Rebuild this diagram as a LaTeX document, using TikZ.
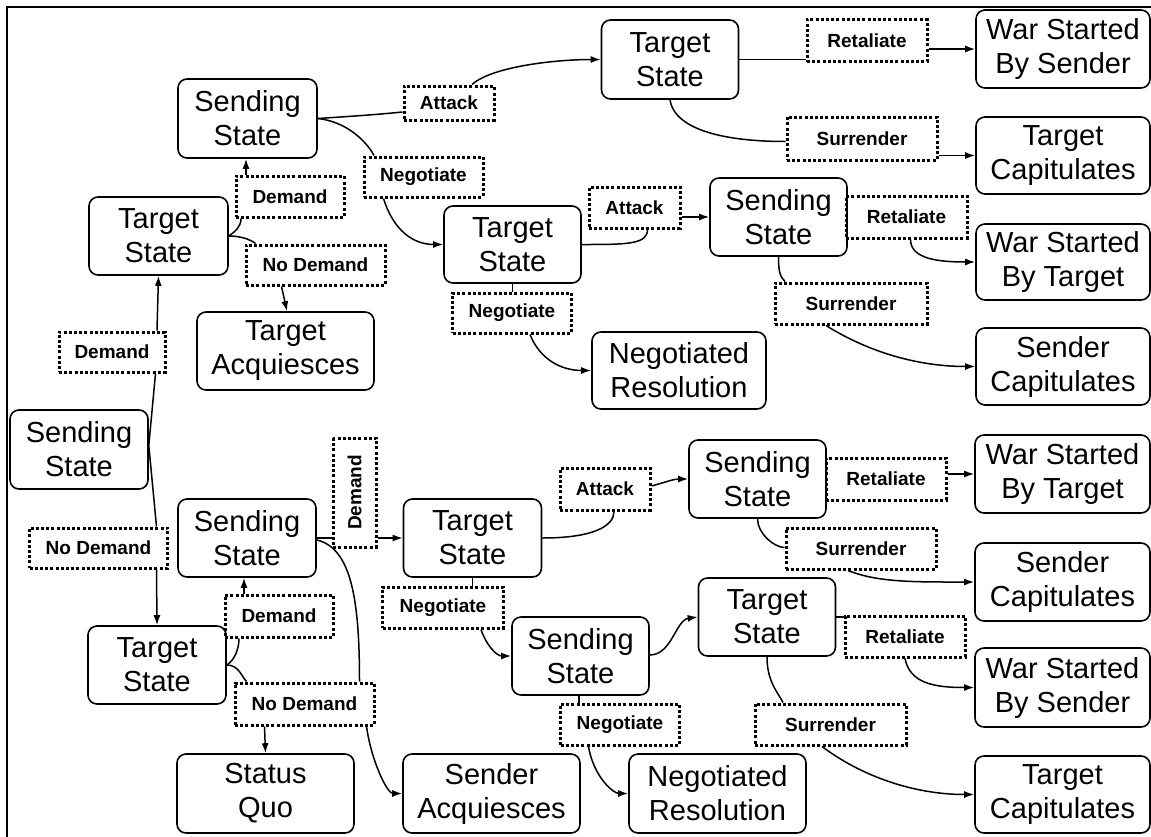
\documentclass[tikz,border=0pt]{standalone}
\usepackage{fontspec}
\setmainfont{Liberation Sans}
\usetikzlibrary{arrows.meta,calc}
\begin{document}
\begin{tikzpicture}[x=1pt,y=-1pt,
  state/.style={draw, line width=1.6pt, rounded corners=9pt, inner sep=0pt, align=center,
    font=\fontsize{29}{34}\selectfont},
  lab/.style={draw, line width=3pt, dash pattern=on 3pt off 2.2pt, inner sep=0pt, align=center,
    font=\bfseries\fontsize{19}{22}\selectfont},
  con/.style={line width=1.5pt},
  arr/.style={con, -{Latex[length=10pt,width=7pt]}}]
\clip (0,0) rectangle (1151,836);
\useasboundingbox (0,0) rectangle (1151,836);
\draw[line width=2.2pt] (7,7) rectangle (1170,860);
% state boxes
\node[state, minimum width=138pt, minimum height=79pt] (r) at (79,449.5) {Sending\\State};
\node[state, minimum width=139pt, minimum height=78pt] (t1) at (158.5,236) {Target\\State};
\node[state, minimum width=139pt, minimum height=79pt] (s1) at (247.5,118.5) {Sending\\State};
\node[state, minimum width=177pt, minimum height=78pt] (ta) at (285.5,351) {Target\\Acquiesces};
\node[state, minimum width=137pt, minimum height=79pt] (tt) at (670,59.5) {Target\\State};
\node[state, minimum width=174pt, minimum height=78pt] (wss1) at (1063,49) {War Started\\By Sender};
\node[state, minimum width=174pt, minimum height=77pt] (tc1) at (1063,155.5) {Target\\Capitulates};
\node[state, minimum width=137pt, minimum height=77pt] (tm) at (512.5,244.5) {Target\\State};
\node[state, minimum width=137pt, minimum height=78pt] (sm) at (778.5,217) {Sending\\State};
\node[state, minimum width=174pt, minimum height=76pt] (wst1) at (1063,262) {War Started\\By Target};
\node[state, minimum width=174pt, minimum height=77pt] (sc1) at (1063,366.5) {Sender\\Capitulates};
\node[state, minimum width=174pt, minimum height=77pt] (nr1) at (679,370.5) {Negotiated\\Resolution};
\node[state, minimum width=138pt, minimum height=78pt] (t2) at (157,665) {Target\\State};
\node[state, minimum width=138pt, minimum height=78pt] (s2) at (247,538) {Sending\\State};
\node[state, minimum width=177pt, minimum height=79pt] (sq) at (265.5,793.5) {Status\\Quo};
\node[state, minimum width=177pt, minimum height=79pt] (sa) at (491.5,793.5) {Sender\\Acquiesces};
\node[state, minimum width=138pt, minimum height=78pt] (tb) at (472.5,538) {Target\\State};
\node[state, minimum width=137pt, minimum height=78pt] (sb) at (757.5,479) {Sending\\State};
\node[state, minimum width=175pt, minimum height=78pt] (wst2) at (1062.5,474) {War Started\\By Target};
\node[state, minimum width=175pt, minimum height=78pt] (sc2) at (1062.5,582) {Sender\\Capitulates};
\node[state, minimum width=137pt, minimum height=78pt] (sd) at (580.5,656) {Sending\\State};
\node[state, minimum width=137pt, minimum height=78pt] (tcc) at (767,617) {Target\\State};
\node[state, minimum width=175pt, minimum height=79pt] (wss2) at (1062.5,687.5) {War Started\\By Sender};
\node[state, minimum width=177pt, minimum height=79pt] (nr2) at (717.5,793.5) {Negotiated\\Resolution};
\node[state, minimum width=175pt, minimum height=77pt] (tc2) at (1062.5,794.5) {Target\\Capitulates};
% labels
\node[lab, minimum width=106pt, minimum height=40pt] (lDem1) at (112,352) {Demand};
\node[lab, minimum width=138pt, minimum height=40pt] (lND1) at (98.5,548) {No Demand};
\node[lab, minimum width=108pt, minimum height=41pt] (lDem2) at (290,196.5) {Demand};
\node[lab, minimum width=139pt, minimum height=40pt] (lND2) at (315.5,265) {No Demand};
\node[lab, minimum width=90pt, minimum height=34pt] (lAtt1) at (449,103) {Attack};
\node[lab, minimum width=119pt, minimum height=40pt] (lNeg1) at (423.5,177) {Negotiate};
\node[lab, minimum width=119pt, minimum height=40pt] (lNeg2) at (512,313) {Negotiate};
\node[lab, minimum width=120pt, minimum height=42pt] (lRet1) at (867,40.5) {Retaliate};
\node[lab, minimum width=150pt, minimum height=43pt] (lSur1) at (862,138.5) {Surrender};
\node[lab, minimum width=91pt, minimum height=41pt] (lAtt2) at (634.5,207.5) {Attack};
\node[lab, minimum width=121pt, minimum height=42pt] (lRet2) at (906.5,217) {Retaliate};
\node[lab, minimum width=152pt, minimum height=41pt] (lSur2) at (851,303.5) {Surrender};
\node[lab, rotate=90, minimum width=109pt, minimum height=43pt] (lDemV) at (354.5,492.5) {Demand};
\node[lab, minimum width=108pt, minimum height=42pt] (lDem3) at (279,616) {Demand};
\node[lab, minimum width=139pt, minimum height=42pt] (lND3) at (304.5,704) {No Demand};
\node[lab, minimum width=121pt, minimum height=41pt] (lNeg3) at (443,607.5) {Negotiate};
\node[lab, minimum width=90pt, minimum height=42pt] (lAtt3) at (605,489) {Attack};
\node[lab, minimum width=120pt, minimum height=42pt] (lRet3) at (886,479) {Retaliate};
\node[lab, minimum width=150pt, minimum height=41pt] (lSur3) at (861,548.5) {Surrender};
\node[lab, minimum width=120pt, minimum height=41pt] (lRet4) at (905,636.5) {Retaliate};
\node[lab, minimum width=151pt, minimum height=41pt] (lSur4) at (830.5,724.5) {Surrender};
\node[lab, minimum width=119pt, minimum height=41pt] (lNeg4) at (620,724.5) {Negotiate};
% connectors - upper half
\draw[con] ($(r.east)+(0,-4)$) -- ($(lDem1.south)+(43.5,0)$);
\draw[arr] ($(lDem1.north)+(45,0)$) -- (t1.south);
\draw[con] ($(r.east)+(0,-4)$) -- ($(lND1.north)+(58,0)$);
\draw[arr] ($(lND1.south)+(58,0)$) -- (t2.north);
\draw[con] (t1.east) .. controls +(7,-5) and +(0,8) .. ($(lDem2.south)+(-49,0)$);
\draw[arr] ($(lDem2.north)+(-44,0)$) -- ($(s1.south)+(-1.5,0)$);
\draw[con] (t1.east) .. controls +(12,0) and +(-5,-4) .. ($(lND2.north)+(-60,0)$);
\draw[arr] ($(lND2.south)+(-34,0)$) -- ($(ta.north)+(1.5,0)$);
\draw[con] (s1.east) .. controls +(30,-2) and +(-30,3) .. ($(lAtt1.west)+(0,9)$);
\draw[arr] ($(lAtt1.north)+(23,0)$) .. controls +(20,-18) and +(-45,0) .. (tt.west);
\draw[con] (s1.east) .. controls +(28,3) and +(-8,-15) .. ($(lNeg1.north)+(-49.5,0)$);
\draw[arr] ($(lNeg1.south)+(-40,0)$) .. controls +(10,32) and +(-30,0) .. (tm.west);
\draw[con] (tm.south) -- ($(lNeg2.north)+(0.5,0)$);
\draw[arr] ($(lNeg2.south)+(18,0)$) .. controls +(10,25) and +(-30,0) .. (nr1.west);
\draw[con] (tm.east) .. controls +(45,0) and +(0,15) .. ($(lAtt2.south)+(13,0)$);
\draw[arr] ($(lAtt2.east)+(0,9.5)$) -- (sm.west);
\draw[arr] ($(lRet2.south)+(4,0)$) .. controls +(0,20) and +(-35,0) .. (wst1.west);
\draw[con] (sm.south) .. controls +(0,15) and +(-5,-5) .. ($(lSur2.north)+(-66,0)$);
\draw[arr] ($(lSur2.south)+(-25,0)$) .. controls +(40,25) and +(-60,0) .. (sc1.west);
\draw[con] (tt.east) -- (tt.east -| lRet1.west);
\draw[arr] (lRet1.east |- wss1.west) -- (wss1.west);
\draw[con] (tt.south) .. controls +(5,32) and +(-55,0) .. ($(lSur1.west)+(0,3)$);
\draw[arr] (lSur1.east |- tc1.west) -- (tc1.west);
% connectors - lower half
\draw[con] (s2.east) -- (lDemV.north |- s2.east);
\draw[arr] (lDemV.south |- tb.west) -- (tb.west);
\draw[con] ($(s2.east)+(0,2)$) .. controls +(35,8) and +(0,-80) .. ($(lND3.north)+(55,0)$);
\draw[arr] ($(lND3.south)+(62,0)$) .. controls +(5,35) and +(-15,0) .. (sa.west);
\draw[con] (t2.east) .. controls +(8,-5) and +(0,10) .. ($(lDem3.south)+(-40,0)$);
\draw[arr] ($(lDem3.north)+(-35,0)$) -- ($(s2.south)+(-3,0)$);
\draw[con] (t2.east) .. controls +(12,0) and +(-5,-5) .. ($(lND3.north)+(-58,0)$);
\draw[arr] ($(lND3.south)+(-40,0)$) -- (sq.north);
\draw[con] (tb.south) -- ($(lNeg3.north)+(29.5,0)$);
\draw[arr] ($(lNeg3.south)+(38,0)$) .. controls +(5,15) and +(-15,0) .. (sd.west);
\draw[con] (tb.east) .. controls +(50,0) and +(0,15) .. ($(lAtt3.south)+(9,0)$);
\draw[arr] ($(lAtt3.east)+(0,-3)$) .. controls +(15,-4) and +(-15,0) .. (sb.west);
\draw[arr] (lRet3.east |- wst2.west) -- (wst2.west);
\draw[con] (sb.south) .. controls +(0,15) and +(-10,0) .. ($(lSur3.west)+(0,-1)$);
\draw[arr] ($(lSur3.south)+(-13,0)$) .. controls +(30,12) and +(-60,0) .. (sc2.west);
\draw[arr] ($(sd.east)+(0,-1)$) .. controls +(22,0) and +(-22,3) .. (tcc.west);
\draw[con] (tcc.east) -- (tcc.east -| lRet4.west);
\draw[arr] (lRet4.south) .. controls +(5,25) and +(-40,0) .. (wss2.west);
\draw[con] (tcc.south) .. controls +(0,25) and +(-5,-10) .. ($(lSur4.north)+(-47.5,0)$);
\draw[arr] ($(lSur4.south)+(-8.5,0)$) .. controls +(40,30) and +(-60,0) .. (tc2.west);
\draw[con] ($(sd.south)+(-1.5,0)$) -- ($(lNeg4.north)+(-41,0)$);
\draw[arr] ($(lNeg4.south)+(-31.5,0)$) .. controls +(5,30) and +(-15,0) .. (nr2.west);
\end{tikzpicture}
\end{document}
